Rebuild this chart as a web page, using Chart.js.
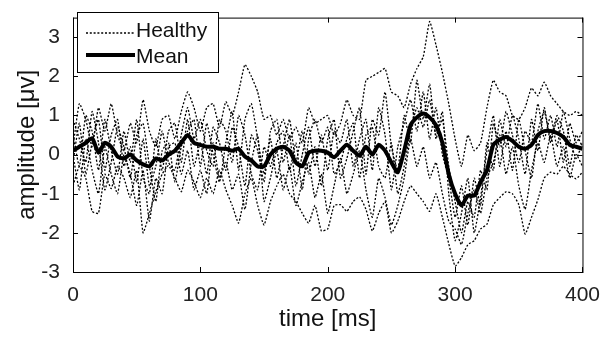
<!DOCTYPE html>
<html>
<head>
<meta charset="utf-8">
<script src="https://cdn.jsdelivr.net/npm/chart.js@4.4.1/dist/chart.umd.min.js"></script>
<style>
  html, body { margin: 0; padding: 0; background: #fff; }
  #wrap { position: relative; width: 603px; height: 337px; }
</style>
</head>
<body>
<div id="wrap"><canvas id="chart"></canvas></div>
<script>
// time axis, 5 ms steps
const timeMs = [];
for (let t = 0; t <= 400; t += 5) timeMs.push(t);

const xTicks = [0, 100, 200, 300, 400];
const yTicks = [-3, -2, -1, 0, 1, 2, 3];

// individual healthy traces
const healthy1 = [0.2, 1.3, 0.9, 0.2, 1.2, 0.6, 1.3, 0.5, 0.1, 0.8, 0.3, 1.4, 0.6, 0.2, 0.9, 1.0, 0.4, 1.1, 1.6, 1.2,
  0.6, 1.2, 1.3, 0.7, 1.35, 1.0, 1.6, 2.3, 2.0, 1.6, 0.9, 1.0, 0.5, 0.9, 0.4, 0.7, 0.3, 1.2, 0.8, 0.9,
  1.0, 0.5, 0.8, 1.4, 1.0, 0.9, 1.9, 2.0, 2.1, 2.2, 1.6, 1.5, 1.2, 1.8, 2.2, 2.5, 3.4, 2.8, 2.1, 1.3,
  0.4, -0.3, 0.5, 0.1, 0.3, 1.2, 1.9, 1.6, 1.5, 1.0, 0.9, 1.2, 1.7, 1.5, 1.85, 1.5, 1.3, 1.1, 1.0, 1.1, 1.0];
const healthy2 = [-0.8, -0.3, -0.6, -1.45, -1.5, -0.5, -0.87, -0.3, -0.6, -1.1, -0.4, -2.0, -1.5, -0.95, -0.5, -0.28, -0.6, -0.95, -0.4, -0.7,
  -1.1, -0.6, -1.0, -0.4, -0.9, -1.3, -1.75, -1.0, -0.6, -1.3, -1.8, -1.2, -0.8, -0.5, -1.0, -1.2, -1.5, -1.75, -1.3, -1.95,
  -1.9, -1.3, -1.28, -1.45, -1.2, -1.08, -1.4, -1.95, -1.5, -1.2, -2.0, -1.7, -1.2, -0.8, -1.0, -1.2, -1.45, -1.0, -1.6, -2.28,
  -2.85, -2.63, -2.3, -2.2, -1.9, -1.78, -1.28, -1.1, -0.95, -1.0, -1.28, -2.03, -1.6, -1.15, -0.6, -0.45, -0.5, -0.3, -0.5, -0.62, -0.45];
const healthy3 = [0.5, -0.3, 1.0, 0.6, -0.4, 0.9, 0.1, -0.5, 0.6, -0.2, 0.9, -0.6, -1.0, 0.4, -0.4, 0.6, 0.8, -0.2, 0.9, -0.3,
  0.3, -0.5, 0.7, 0.3, -0.4, 0.7, 0.2, -0.8, 0.5, 0.1, -0.7, 0.6, 0.9, -0.2, 0.5, -0.8, 0.0, 0.7, -0.3, 0.5,
  -0.4, 0.6, 0.3, 0.9, -0.3, 0.4, 0.9, -0.4, 1.2, 0.5, -0.9, 0.2, 0.8, 1.4, 0.6, 1.6, 0.4, 1.2, 0.0, -0.6,
  -1.6, -0.8, -1.8, -0.6, -1.3, 0.3, -0.4, 0.9, 0.2, 1.0, 0.4, -0.5, 0.9, 0.1, 1.2, 0.3, 0.9, -0.2, 0.8, 0.3, 0.6];
const healthy4 = [-0.2, 0.8, -0.5, 0.3, 0.9, -0.4, 0.5, 0.9, -0.3, 0.2, -0.7, 0.4, -0.8, -0.3, 0.6, -0.2, -0.4, 0.5, 1.2, 0.4,
  0.9, 0.1, -0.3, 0.9, 0.6, -0.2, 1.0, 0.5, -0.5, -0.9, 0.2, -0.3, 0.3, 0.6, -0.4, 0.3, -0.9, 0.4, 0.9, 0.3,
  0.7, -0.5, -0.2, 0.4, 0.8, -0.6, 0.5, 0.7, -0.3, -0.6, 0.3, -1.0, -0.3, 0.6, 1.2, 0.7, 1.4, 0.5, 0.9, -0.3,
  -1.2, -2.0, -1.2, -1.6, -0.4, -0.9, 0.8, 0.2, 1.1, 0.5, -0.2, 0.6, 0.3, 1.3, 0.4, 1.0, 0.2, 1.1, 0.4, -0.1, 0.3];
const healthy5 = [0.9, 0.4, -0.2, 1.1, 0.3, -0.9, -0.2, 0.7, 0.2, -0.6, 0.5, 0.8, -0.3, -1.2, 0.1, 0.3, -0.7, 0.2, 0.6, 0.9,
  -0.3, 0.8, 0.0, -0.7, 0.3, 1.1, -0.4, 0.9, 1.3, 0.4, -0.5, 0.4, -0.6, 0.2, 0.9, -0.2, 0.6, -0.5, 0.2, -0.8,
  0.4, 0.9, -0.6, -0.1, 0.6, 1.2, -0.5, 0.9, 0.5, 1.6, 0.2, -0.4, 1.0, 0.3, 1.9, 0.9, 1.8, 0.4, 1.1, -1.0,
  -2.2, -1.5, -0.6, -2.0, -1.1, 0.1, 1.0, -0.3, 0.6, -0.4, 0.9, 0.1, -0.6, 0.6, 1.1, 0.4, 1.0, 0.6, -0.3, 0.5, 0.2];
const healthy6 = [0.0, -0.9, 0.4, -0.4, -1.0, 0.2, -0.5, -1.0, 0.0, -0.5, -1.3, -0.4, -1.7, -0.6, -1.0, 0.2, 0.3, -0.5, 0.1, -0.9,
  -0.4, -1.0, 0.3, -0.6, -0.2, -0.9, -0.5, -1.4, -0.2, 0.5, -1.2, -0.6, 0.1, -0.9, -0.3, -1.3, -0.7, -0.2, -1.1, -0.5,
  -1.5, -0.8, -0.1, -1.0, -0.5, 0.1, -0.9, -1.6, -0.6, -1.1, -1.8, -1.3, -0.6, 0.4, -0.3, 0.2, -0.6, -0.2, -1.0, -1.7,
  -1.9, -2.3, -1.5, -0.9, -1.5, -0.6, -0.2, 0.5, -0.5, 0.2, -0.8, -1.4, -0.4, 0.3, -0.2, 0.5, -0.3, 0.2, -0.6, 0.0, -0.3];

// grand mean trace
const meanTrace = [0.1, 0.2, 0.3, 0.42, 0.05, 0.3, 0.2, -0.05, -0.1, 0.0, -0.15, -0.25, -0.3, -0.1, -0.15, 0.0, 0.1, 0.3, 0.5, 0.3,
  0.25, 0.2, 0.2, 0.15, 0.15, 0.1, 0.15, -0.05, -0.15, -0.3, -0.3, 0.0, 0.15, 0.2, 0.1, -0.2, -0.3, 0.05, 0.1, 0.1,
  0.05, -0.07, 0.1, 0.25, 0.1, -0.03, 0.2, 0.0, 0.25, 0.1, -0.2, -0.45, 0.1, 0.75, 0.95, 1.05, 0.95, 0.75, 0.3, -0.5,
  -1.0, -1.3, -1.05, -1.05, -0.7, -0.4, 0.25, 0.38, 0.45, 0.35, 0.2, 0.15, 0.25, 0.5, 0.6, 0.6, 0.55, 0.45, 0.25, 0.2, 0.15];

const FONT = 'Liberation Sans, Arial, Helvetica, sans-serif';
const DOTS = [2, 1.8];

function pts(values) {
  return values.map((v, i) => ({ x: timeMs[i], y: v }));
}

function dotted(values) {
  return {
    label: 'Healthy',
    data: pts(values),
    borderColor: '#000',
    borderWidth: 1.3,
    borderDash: DOTS,
    pointRadius: 0,
    tension: 0.15,
  };
}

// MATLAB style box, inward ticks and the legend
const matlabFrame = {
  id: 'matlabFrame',
  afterDraw(chart) {
    const { ctx, chartArea: a, scales } = chart;
    ctx.save();
    ctx.strokeStyle = '#000';
    ctx.lineWidth = 1;
    ctx.setLineDash([]);
    ctx.strokeRect(a.left + 0.5, a.top + 0.5, a.right - a.left, a.bottom - a.top);
    const len = 5;
    ctx.beginPath();
    xTicks.forEach((v) => {
      const px = Math.round(scales.x.getPixelForValue(v)) + 0.5;
      ctx.moveTo(px, a.bottom); ctx.lineTo(px, a.bottom - len);
      ctx.moveTo(px, a.top); ctx.lineTo(px, a.top + len);
    });
    yTicks.forEach((v) => {
      const py = Math.round(scales.y.getPixelForValue(v)) + 0.5;
      ctx.moveTo(a.left, py); ctx.lineTo(a.left + len, py);
      ctx.moveTo(a.right, py); ctx.lineTo(a.right - len, py);
    });
    ctx.stroke();

    // legend box
    const lx = 77, ly = 12, lw = 141, lh = 60;
    ctx.fillStyle = '#fff';
    ctx.fillRect(lx, ly, lw, lh);
    ctx.strokeRect(lx + 0.5, ly + 0.5, lw, lh);
    ctx.beginPath();
    ctx.setLineDash(DOTS);
    ctx.lineWidth = 1.3;
    ctx.moveTo(86, 33); ctx.lineTo(135, 33);
    ctx.stroke();
    ctx.beginPath();
    ctx.setLineDash([]);
    ctx.lineWidth = 4;
    ctx.moveTo(86, 55); ctx.lineTo(135, 55);
    ctx.stroke();
    ctx.fillStyle = '#111';
    ctx.font = `21px ${FONT}`;
    ctx.textBaseline = 'middle';
    ctx.fillText('Healthy', 136, 31);
    ctx.fillText('Mean', 136, 57);
    ctx.restore();
  },
};

new Chart(document.getElementById('chart'), {
  type: 'line',
  data: {
    datasets: [
      dotted(healthy1),
      dotted(healthy2),
      dotted(healthy3),
      dotted(healthy4),
      dotted(healthy5),
      dotted(healthy6),
      {
        label: 'Mean',
        data: pts(meanTrace),
        borderColor: '#000',
        borderWidth: 4,
        pointRadius: 0,
        tension: 0.2,
      },
    ],
  },
  options: {
    responsive: true,
    maintainAspectRatio: false,
    animation: false,
    layout: { padding: { top: 12, right: 19, left: 0, bottom: 0 } },
    plugins: { legend: { display: false }, tooltip: { enabled: false } },
    scales: {
      x: {
        type: 'linear',
        min: 0,
        max: 400,
        afterBuildTicks: (s) => { s.ticks = xTicks.map((v) => ({ value: v })); },
        afterFit: (s) => { s.height = 65; },
        grid: { display: false },
        border: { display: false },
        ticks: { color: '#222', font: { family: FONT, size: 21 }, padding: 3, maxRotation: 0 },
        title: { display: true, text: 'time [ms]', color: '#111', font: { family: FONT, size: 24 }, padding: { top: 0, bottom: 3 } },
      },
      y: {
        min: -3,
        max: 3.5,
        afterBuildTicks: (s) => { s.ticks = yTicks.map((v) => ({ value: v })); },
        afterFit: (s) => { s.width = 73; },
        grid: { display: false },
        border: { display: false },
        ticks: { color: '#222', font: { family: FONT, size: 21 }, padding: 5 },
        title: { display: true, text: 'amplitude [μv]', color: '#111', font: { family: FONT, size: 24 }, padding: { top: 13, bottom: 0 } },
      },
    },
  },
  plugins: [matlabFrame],
});
</script>
</body>
</html>
